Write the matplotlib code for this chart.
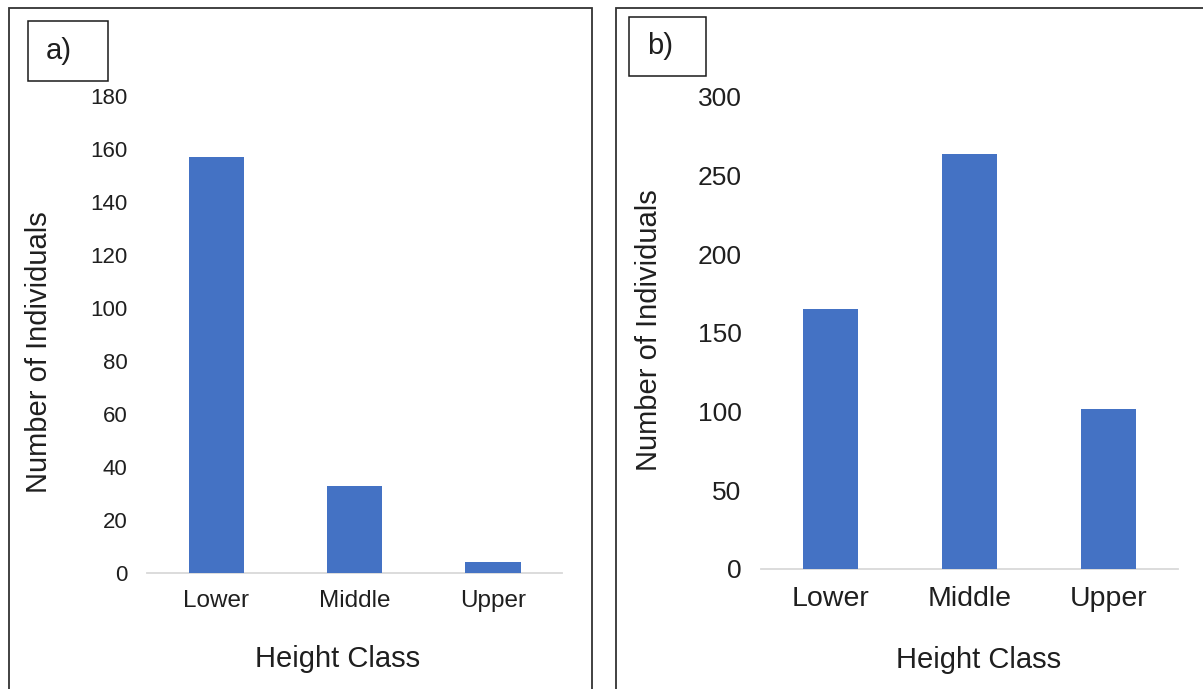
import matplotlib
matplotlib.use("Agg")
import matplotlib.pyplot as plt
from matplotlib.patches import Rectangle

categories = ["Lower", "Middle", "Upper"]
values_a = [157, 33, 4]
values_b = [165, 264, 102]
yticks_a = [0, 20, 40, 60, 80, 100, 120, 140, 160, 180]
yticks_b = [0, 50, 100, 150, 200, 250, 300]

plt.rcParams['font.family'] = ['Liberation Sans', 'DejaVu Sans']
TXT = '#1f1f1f'
BAR = '#4472C4'

W, H = 1203, 689
fig = plt.figure(figsize=(W / 100, H / 100), dpi=100)

def fx(px):
    return px / W

def fy(py):
    return 1 - py / H

def panel(rect_px, values, yticks, ymax, ytick_fs, xtick_fs, ylab_xy, xlab_xy):
    l, r, top, bot = rect_px
    ax = fig.add_axes([fx(l), fy(bot), fx(r - l), (bot - top) / H])
    x = list(range(len(categories)))
    ax.bar(x, values, width=0.4, color=BAR, zorder=3)
    ax.set_xlim(-0.5, len(categories) - 0.5)
    ax.set_ylim(0, ymax)
    ax.set_yticks(yticks)
    ax.set_xticks(x)
    ax.set_xticklabels(categories)
    for s in ['top', 'right', 'left']:
        ax.spines[s].set_visible(False)
    ax.spines['bottom'].set_color('#D9D9D9')
    ax.spines['bottom'].set_linewidth(1.3)
    ax.tick_params(axis='both', length=0, colors=TXT)
    ax.tick_params(axis='y', labelsize=ytick_fs, pad=14)
    ax.tick_params(axis='x', labelsize=xtick_fs, pad=12)
    ax.patch.set_alpha(0)
    fig.text(fx(ylab_xy[0]), fy(ylab_xy[1]), "Number of Individuals", rotation=90,
             ha='center', va='center', fontsize=21, color=TXT)
    fig.text(fx(xlab_xy[0]), fy(xlab_xy[1]), "Height Class",
             ha='center', va='center', fontsize=21, color=TXT)
    return ax

panel((147, 562, 96, 573), values_a, yticks_a, 180, 16, 17.5, (39, 352), (338, 659))
panel((761, 1178, 97, 569), values_b, yticks_b, 300, 19, 20.5, (649, 330), (979, 660))

# panel borders
fig.patches.append(Rectangle((fx(9), fy(700)), fx(592 - 9), (700 - 7.5) / H,
                             transform=fig.transFigure, fill=False,
                             edgecolor='#333333', linewidth=1.3))
fig.patches.append(Rectangle((fx(616), fy(700)), fx(1230 - 616), (700 - 7.5) / H,
                             transform=fig.transFigure, fill=False,
                             edgecolor='#333333', linewidth=1.3))

# label boxes
for (x0, x1, y0, y1, lab) in [(28, 108, 21, 81, "a)"), (629, 706, 17, 76, "b)")]:
    fig.patches.append(Rectangle((fx(x0), fy(y1)), fx(x1 - x0), (y1 - y0) / H,
                                 transform=fig.transFigure, fill=True, facecolor='white',
                                 edgecolor='#1a1a1a', linewidth=1.1))
    fig.text(fx(x0 + 31), fy((y0 + y1) / 2), lab, ha='center', va='center',
             fontsize=21, color=TXT)

fig.savefig("out.png", dpi=100)
